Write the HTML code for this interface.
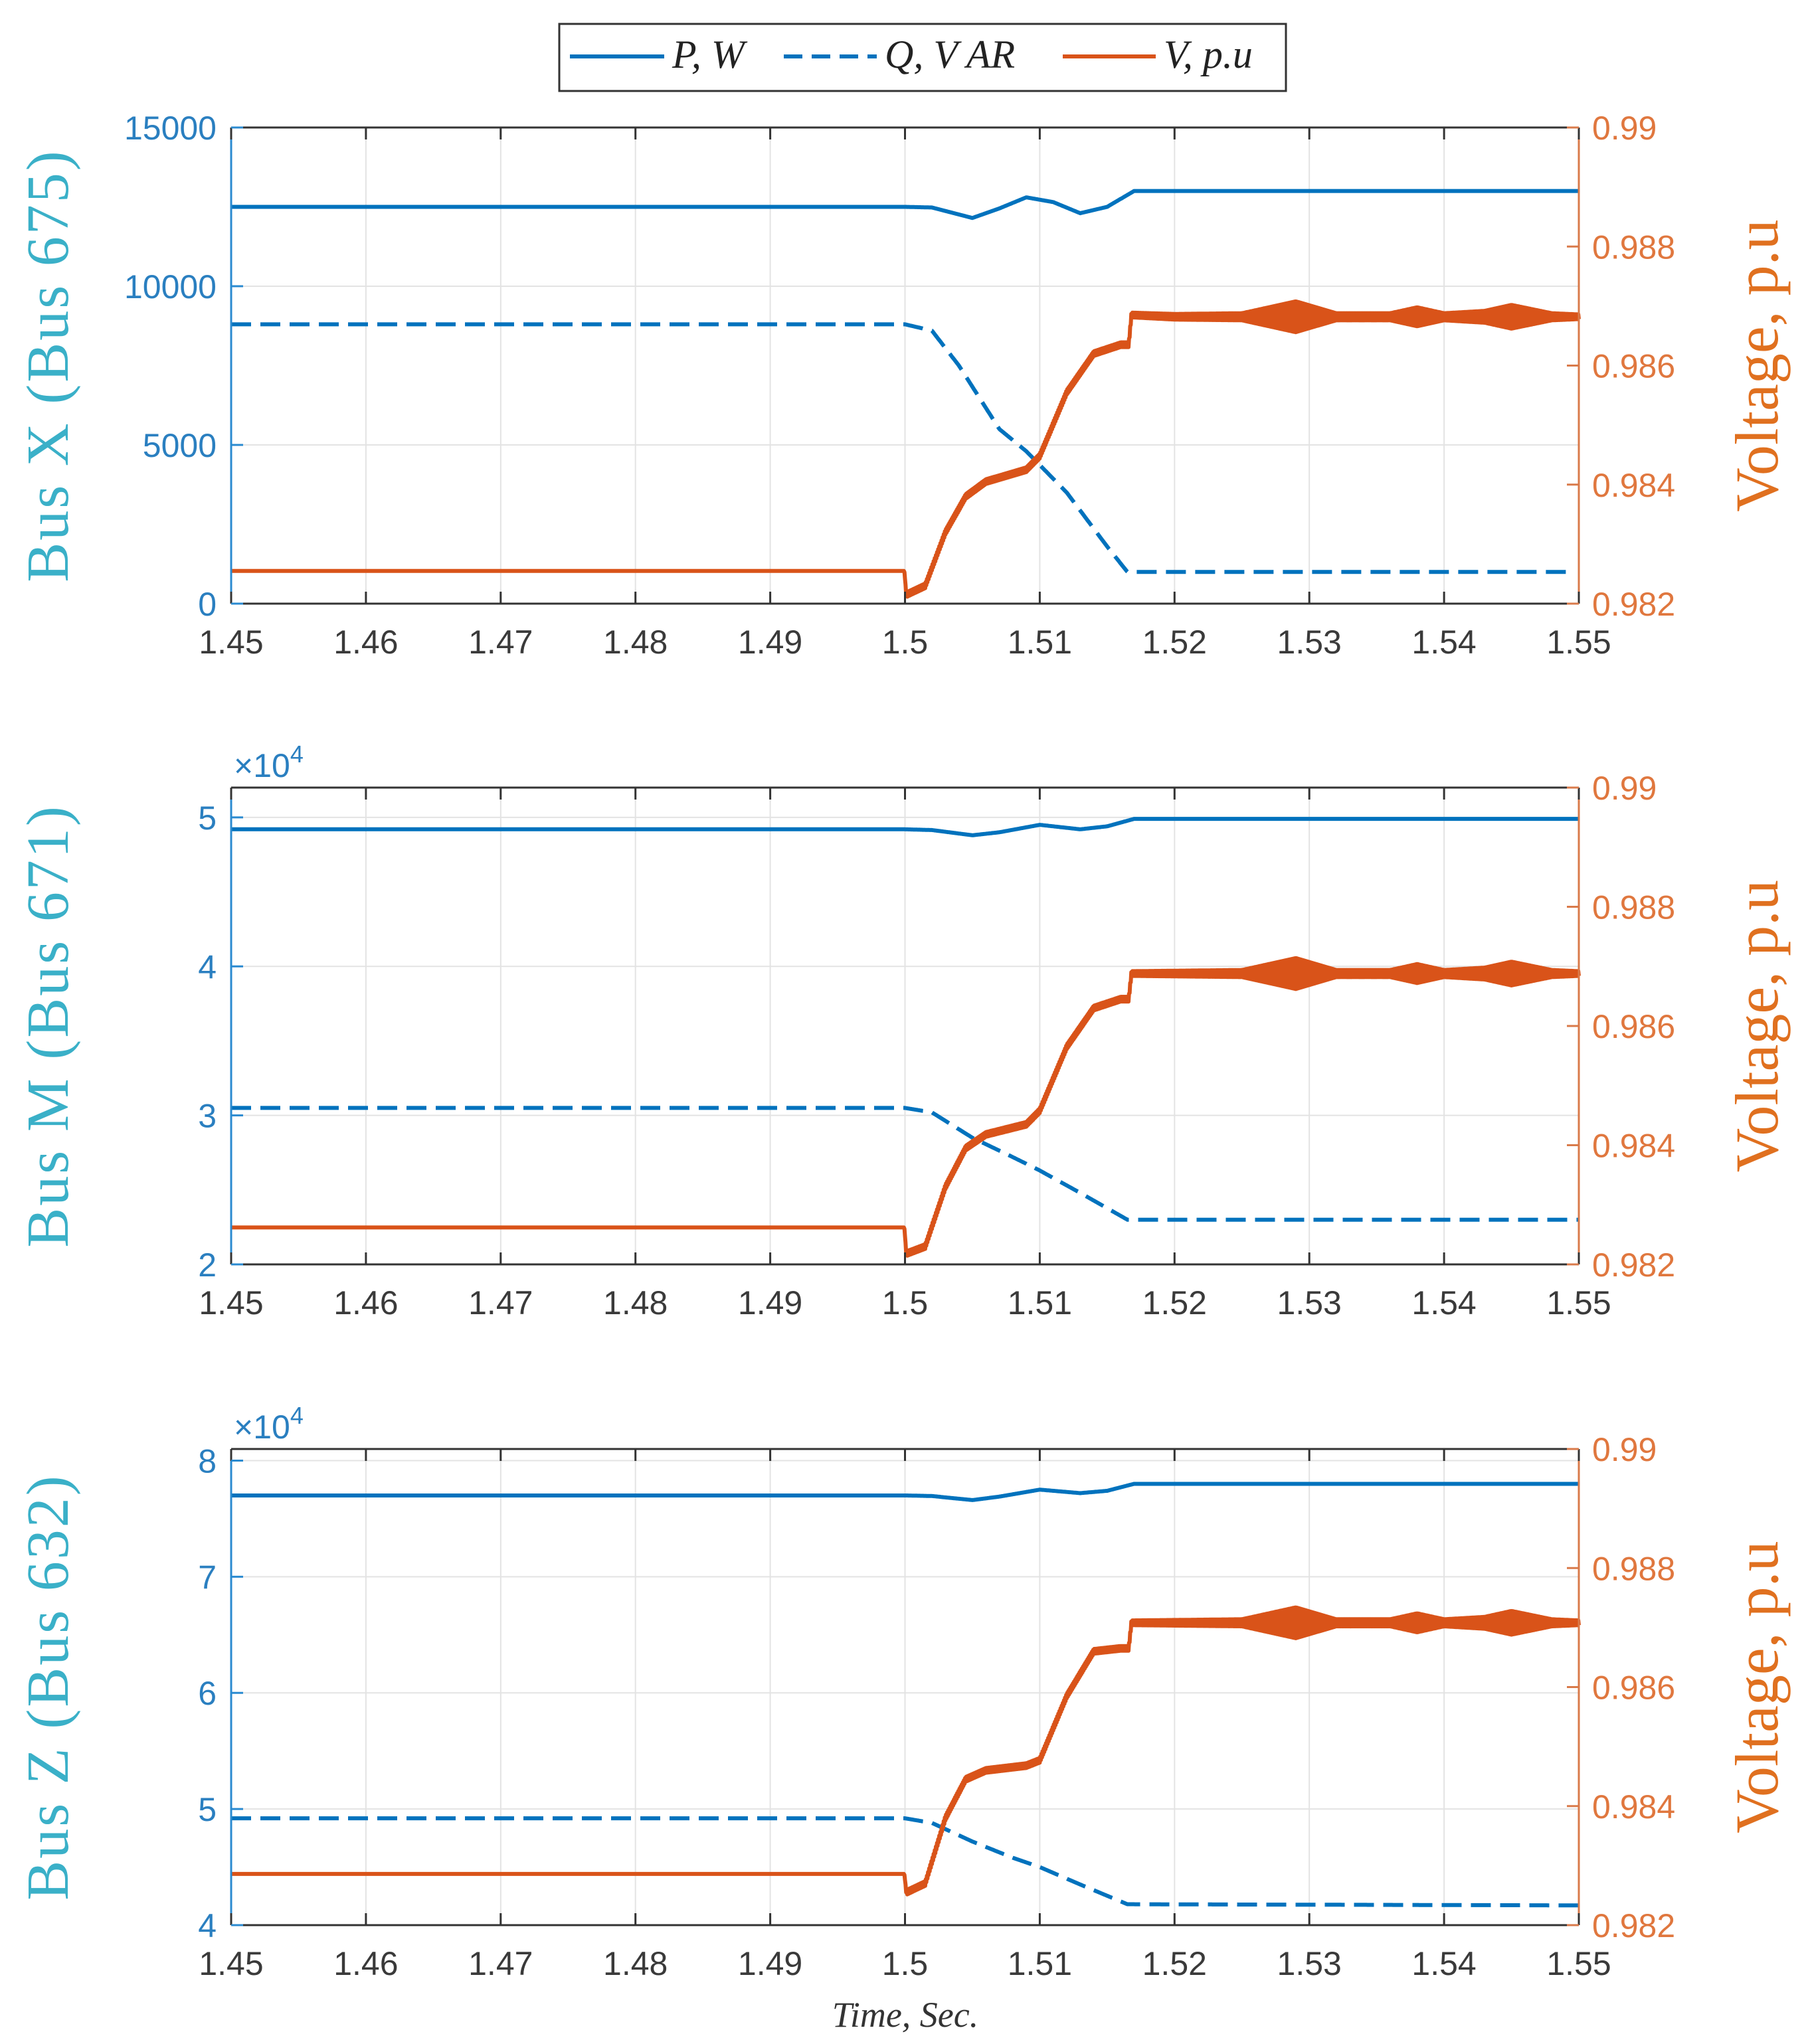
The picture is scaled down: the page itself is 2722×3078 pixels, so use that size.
<!DOCTYPE html>
<html><head><meta charset="utf-8">
<style>
html,body{margin:0;padding:0;background:#fff;}
svg{display:block;}
</style></head>
<body>
<svg id="chart" width="2722" height="3078" viewBox="0 0 2722 3078" xmlns="http://www.w3.org/2000/svg">
<g id="legend">
  <rect x="842" y="36" width="1094" height="101" fill="#fff" stroke="#333" stroke-width="3"/>
  <line x1="858" y1="85" x2="1000" y2="85" stroke="#0072bd" stroke-width="6"/>
  <text x="1012" y="102" font-family="Liberation Serif, serif" font-style="italic" font-size="60" fill="#222">P, W</text>
  <line x1="1180" y1="85" x2="1320" y2="85" stroke="#0072bd" stroke-width="6" stroke-dasharray="28,14"/>
  <text x="1332" y="102" font-family="Liberation Serif, serif" font-style="italic" font-size="60" fill="#222">Q, V AR</text>
  <line x1="1600" y1="85" x2="1740" y2="85" stroke="#d95319" stroke-width="6"/>
  <text x="1752" y="102" font-family="Liberation Serif, serif" font-style="italic" font-size="60" fill="#222">V, p.u</text>
</g>
<text x="1363" y="3052" text-anchor="middle" font-family="Liberation Serif, serif" font-style="italic" font-size="54" fill="#333">Time, Sec.</text>
</svg>
<script>
// ---- data ----
const xTicks = [1.45,1.46,1.47,1.48,1.49,1.5,1.51,1.52,1.53,1.54,1.55];
const xTickLabels = ["1.45","1.46","1.47","1.48","1.49","1.5","1.51","1.52","1.53","1.54","1.55"];
const vTicks = [0.982,0.984,0.986,0.988,0.99];
const vTickLabels = ["0.982","0.984","0.986","0.988","0.99"];

const p1T = [1.45,1.5,1.502,1.505,1.507,1.509,1.511,1.513,1.515,1.517,1.55];
const p1P = [12500,12500,12480,12150,12450,12800,12650,12300,12500,13000,13000];
const p1QT = [1.45,1.5,1.502,1.504,1.507,1.509,1.512,1.515,1.5165,1.5495];
const p1Q = [8800,8800,8600,7500,5500,4800,3500,1800,1000,1000];
const p1VT = [1.45,1.49995,1.5001,1.5015,1.503,1.5045,1.506,1.509,1.51,1.512,1.514,1.516,1.5166,1.5168,1.52,1.55];
const p1V = [0.98255,0.98255,0.98215,0.9823,0.9832,0.9838,0.98405,0.98425,0.98448,0.98555,0.9862,0.98635,0.98635,0.98685,0.98682,0.98682];

const p2T = [1.45,1.5,1.502,1.505,1.507,1.51,1.513,1.515,1.517,1.55];
const p2P = [4.92,4.92,4.915,4.88,4.90,4.95,4.92,4.94,4.99,4.99];
const p2QT = [1.45,1.5,1.502,1.505,1.508,1.51,1.513,1.5165,1.55];
const p2Q = [3.05,3.05,3.02,2.85,2.72,2.63,2.48,2.3,2.3];
const p2VT = p1VT;
const p2V = [0.98262,0.98262,0.98218,0.9823,0.9833,0.98395,0.98418,0.98435,0.98458,0.98565,0.9863,0.98645,0.98645,0.98688,0.98688,0.98688];

const p3T = [1.45,1.5,1.502,1.505,1.507,1.51,1.513,1.515,1.517,1.55];
const p3P = [7.7,7.7,7.695,7.66,7.69,7.75,7.72,7.74,7.8,7.8];
const p3QT = [1.45,1.5,1.502,1.505,1.508,1.51,1.513,1.5165,1.55];
const p3Q = [4.92,4.92,4.88,4.72,4.58,4.5,4.35,4.18,4.17];
const p3VT = p1VT;
const p3V = [0.98286,0.98286,0.98255,0.9827,0.9838,0.98445,0.9846,0.98468,0.98477,0.98585,0.9866,0.98665,0.98665,0.98708,0.98708,0.98708];

// noise envelope (voltage ripple amplitude, p.u.)
const noiseT = [1.45,1.5,1.5001,1.5168,1.525,1.529,1.532,1.536,1.538,1.54,1.543,1.545,1.548,1.55];
const noiseA = [0,0,0.00004,0.00004,0.00006,0.00026,0.00006,0.00006,0.00016,0.00006,0.0001,0.0002,0.00006,0.00004];

const panels = [
 {name:"bus-x", top:192, bot:909, yMin:0, yMax:15000, yTicks:[0,5000,10000,15000], yLabels:["0","5000","10000","15000"], exp:false, label:"Bus X (Bus 675)", pt:p1T, p:p1P, qt:p1QT, q:p1Q, vt:p1VT, v:p1V},
 {name:"bus-m", top:1186, bot:1904, yMin:2, yMax:5.2, yTicks:[2,3,4,5], yLabels:["2","3","4","5"], exp:true, label:"Bus M (Bus 671)", pt:p2T, p:p2P, qt:p2QT, q:p2Q, vt:p2VT, v:p2V},
 {name:"bus-z", top:2182, bot:2899, yMin:4, yMax:8.1, yTicks:[4,5,6,7,8], yLabels:["4","5","6","7","8"], exp:true, label:"Bus Z (Bus 632)", pt:p3T, p:p3P, qt:p3QT, q:p3Q, vt:p3VT, v:p3V}
];

const L=348, R=2377, X0=1.45, X1=1.55;
const svg=document.getElementById('chart');
const NS="http://www.w3.org/2000/svg";
function xS(t){return L+(t-X0)/(X1-X0)*(R-L);}
function interp(ts,vs,t){
  if(t<=ts[0])return vs[0];
  for(let i=1;i<ts.length;i++){ if(t<=ts[i]){const f=(t-ts[i-1])/(ts[i]-ts[i-1]);return vs[i-1]+f*(vs[i]-vs[i-1]);} }
  return vs[vs.length-1];
}
function mk(tag,attrs,parent){const e=document.createElementNS(NS,tag);for(const k in attrs)e.setAttribute(k,attrs[k]);(parent||svg).appendChild(e);return e;}

panels.forEach(pn=>{
  const g=mk('g',{});
  
  
  const yS=v=>pn.bot-(v-pn.yMin)/(pn.yMax-pn.yMin)*(pn.bot-pn.top);
  const vS=v=>pn.bot-(v-0.982)/0.008*(pn.bot-pn.top);
  xTicks.forEach(t=>{ const l=mk('line',{x1:xS(t),x2:xS(t),y1:pn.top,y2:pn.bot,stroke:'#e3e3e3','stroke-width':2},g);
      });
  pn.yTicks.forEach(v=>{ const l=mk('line',{x1:L,x2:R,y1:yS(v),y2:yS(v),stroke:'#e3e3e3','stroke-width':2},g);
      });
  const N=2000;
  let d=''; for(let i=0;i<=N;i++){const t=X0+(X1-X0)*i/N; d+=(d?'L':'M')+xS(t).toFixed(1)+','+yS(interp(pn.pt,pn.p,t)).toFixed(1);}
  const pp=mk('path',{d:d,fill:'none',stroke:'#0072bd','stroke-width':6,'stroke-linejoin':'round'},g);
   
  const qEnd=pn.qt[pn.qt.length-1];
  d=''; for(let i=0;i<=N;i++){const t=X0+(qEnd-X0)*i/N; d+=(d?'L':'M')+xS(t).toFixed(1)+','+yS(interp(pn.qt,pn.q,t)).toFixed(1);}
  const qp=mk('path',{d:d,fill:'none',stroke:'#0072bd','stroke-width':6,'stroke-dasharray':'30,14'},g);
   
  d='';
  const NV=2400;
  for(let i=0;i<=NV;i++){
    const t=X0+(X1-X0)*i/NV;
    const a=interp(noiseT,noiseA,t)*(i%2?1:-1);
    d+=(d?'L':'M')+xS(t).toFixed(1)+','+vS(interp(pn.vt,pn.v,t)+a).toFixed(1);
  }
  const vp=mk('path',{d:d,fill:'none',stroke:'#d95319','stroke-width':6,'stroke-linejoin':'round'},g);
   
  const top=mk('line',{x1:L,x2:R,y1:pn.top,y2:pn.top,stroke:'#333','stroke-width':3},g);
   
  const bot=mk('line',{x1:L,x2:R,y1:pn.bot,y2:pn.bot,stroke:'#333','stroke-width':3},g);
   
  const la=mk('line',{x1:L,x2:L,y1:pn.top,y2:pn.bot,stroke:'#2a8ad0','stroke-width':3},g);
   
  const ra=mk('line',{x1:R,x2:R,y1:pn.top,y2:pn.bot,stroke:'#d97a4a','stroke-width':3},g);
   
  xTicks.forEach((t,i)=>{
    mk('line',{x1:xS(t),x2:xS(t),y1:pn.bot,y2:pn.bot-18,stroke:'#333','stroke-width':3},g);
    mk('line',{x1:xS(t),x2:xS(t),y1:pn.top,y2:pn.top+18,stroke:'#333','stroke-width':3},g);
    const tx=mk('text',{x:xS(t),y:pn.bot+75,'text-anchor':'middle','font-family':'Liberation Sans, sans-serif','font-size':50,fill:'#3a3a3a'},g);
    tx.textContent=xTickLabels[i];
     
  });
  pn.yTicks.forEach((v,i)=>{
    mk('line',{x1:L,x2:L+18,y1:yS(v),y2:yS(v),stroke:'#2a8ad0','stroke-width':3},g);
    const tx=mk('text',{x:L-22,y:yS(v)+18,'text-anchor':'end','font-family':'Liberation Sans, sans-serif','font-size':50,fill:'#2a7fc0'},g);
    tx.textContent=pn.yLabels[i];
     
  });
  vTicks.forEach((v,i)=>{
    mk('line',{x1:R,x2:R-18,y1:vS(v),y2:vS(v),stroke:'#d97a4a','stroke-width':3},g);
    const tx=mk('text',{x:R+20,y:vS(v)+18,'font-family':'Liberation Sans, sans-serif','font-size':50,fill:'#e0773e'},g);
    tx.textContent=vTickLabels[i];
     
  });
  if(pn.exp){
    const ex=mk('text',{x:352,y:pn.top-16,'font-family':'Liberation Sans, sans-serif','font-size':50,fill:'#2a7fc0'},g);
    ex.innerHTML='×10<tspan dy="-22" font-size="36">4</tspan>';
     
  }
  const cy=(pn.top+pn.bot)/2;
  const yl=mk('text',{x:0,y:0,transform:`translate(102,${cy}) rotate(-90)`,'text-anchor':'middle','font-family':'Liberation Serif, serif','font-size':90,'letter-spacing':3,fill:'#3ab0c8'},g);
  yl.textContent=pn.label;
   
  const yr=mk('text',{x:0,y:0,transform:`translate(2676,${cy}) rotate(-90)`,'text-anchor':'middle','font-family':'Liberation Serif, serif','font-size':92,fill:'#e0701f'},g);
  yr.textContent='Voltage, p.u';
   
});
</script>
</body></html>
